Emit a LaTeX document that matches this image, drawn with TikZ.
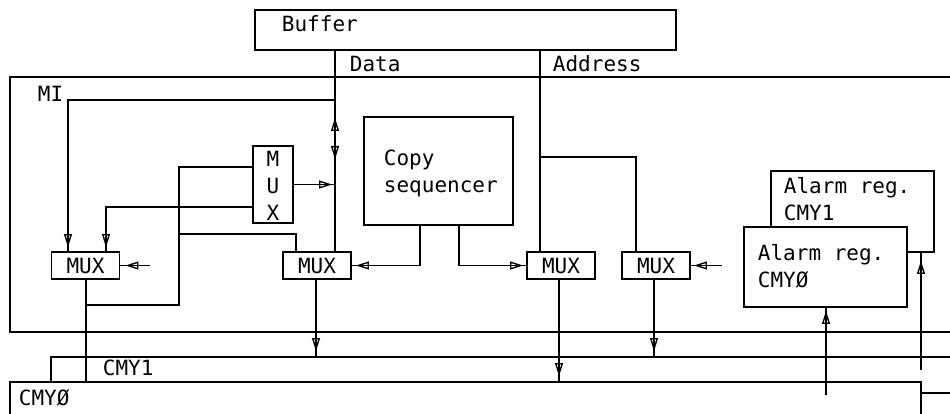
\documentclass[tikz,border=0pt]{standalone}
\usepackage{fontspec}
\newfontfamily\plotfont{DejaVu Sans Mono}
\usetikzlibrary{arrows.meta, decorations.markings}

\begin{document}
\begin{tikzpicture}[x=1pt, y=-1pt, line width=1.9pt,
    box/.style = {draw, rectangle, inner sep=0pt, fill=white, font=\plotfont\fontsize{21}{27}\selectfont},
    txt/.style = {inner sep=0pt, anchor=base west, align=left, font=\plotfont\fontsize{21}{27}\selectfont},
    fwd/.style = {postaction={decorate, decoration={markings, mark=at position #1 with {\arrow{Triangle[open, length=13pt, width=8pt, line width=1.4pt]}}}}},
    bwd/.style = {postaction={decorate, decoration={markings, mark=at position #1 with {\arrowreversed{Triangle[open, length=13pt, width=8pt, line width=1.4pt]}}}}}]
        \clip (0,0) rectangle (950,414);

        % Drawing the buffer and where the buses leave it
        \node[box, minimum width=421pt, minimum height=40pt] (buffer) at (465.5,30) {};
        \node[txt] (bufferlbl) at (281,32) {Buffer};
        \coordinate (data) at (335,50);
        \coordinate (addr) at (540,50);
        \node[txt] (datalbl) at (349,72) {Data};
        \node[txt] (addrlbl) at (552,72) {Address};

        % Drawing the MI frame
        \node[box, minimum width=960pt, minimum height=255pt] (mi) at (490,204.5) {};
        \node[txt] (milbl) at (37,102) {MI};

        % Drawing the multiplexers
        \foreach \name/\xPos in {mux1/85.5, mux2/317, mux3/561, mux4/656}{
            \node[box, minimum width=68pt, minimum height=27pt] (\name) at (\xPos,265.5) {MUX};
          }
        \node[box, minimum width=40pt, minimum height=77pt] (muxv) at (273,184.5) {};
        % (base of a text on several lines is its last line)
        \node[txt, anchor=base, align=center] (muxvlbl) at (273,220) {M\\U\\X};

        % Copy sequencer
        \node[box, minimum width=149pt, minimum height=108pt] (copyseq) at (438.5,171) {};
        \node[txt] (copylbl) at (383,193) {Copy\\sequencer};

        % Alarm registers
        \node[box, minimum width=163pt, minimum height=81pt] (alarm1) at (852.5,211.5) {};
        \node[txt] (alarm1lbl) at (783,220) {Alarm reg.\\CMY1};
        \node[box, minimum width=163pt, minimum height=80pt] (alarm0) at (825.5,267) {};
        \node[txt] (alarm0lbl) at (757,287) {Alarm reg.\\CMYØ};

        % Memory buses
        \node[box, minimum width=919pt, minimum height=36pt] (cmy1) at (510.5,375) {};
        \node[txt] (cmy1lbl) at (102,375) {CMY1};
        \node[box, minimum width=911pt, minimum height=58pt] (cmy0) at (465.5,411) {};
        \node[txt] (cmy0lbl) at (18,405) {CMYØ};

        % Connections
        % Data bus, both ways
        \draw[bwd=68pt, fwd=109pt] (data) -- (data |- mux2.north);
        \draw[fwd=-4pt] (data |- 0,100) -| (68,0 |- mux1.north);
        \draw[fwd=-3pt] (muxv.east) -- (data |- muxv.east);

        % Small mux inputs
        \draw (muxv.west |- 0,167) -- (179,167) -- (179,305) -- (86,305);
        \draw[fwd=-4pt] (muxv.west |- 0,207) -| (106,0 |- mux1.north);
        \draw (179,234) -| (296,0 |- mux2.north);

        % Outside inputs
        \draw[fwd=-5pt] (150,0 |- mux1.east) -- (mux1.east);
        \draw[fwd=-3pt] (722,0 |- mux4.east) -- (mux4.east);

        % Copy sequencer to mux 2 and 3
        \draw[fwd=-4pt] (420,0 |- copyseq.south) |- (mux2.east);
        \draw[fwd=-3pt] (459,0 |- copyseq.south) |- (mux3.west);

        % Address bus
        \draw (addr) -- (addr |- mux3.north);
        \draw (addr |- 0,157) -| (636,0 |- mux4.north);

        % Mux outputs to the memory buses
        \draw (86,0 |- mux1.south) -- (86,0 |- cmy0.north);
        \foreach \mux/\xPos/\bus in {mux2/316/cmy1, mux3/559/cmy0, mux4/654/cmy1}{
            \draw[fwd=-5pt] (\xPos,0 |- \mux.south) -- (\xPos,0 |- \bus.north);
          }

        % Alarm register inputs
        \draw[fwd=-3pt] (826,395) -- (826,0 |- alarm0.south);
        \draw[fwd=-8pt] (921,370) -- (921,0 |- alarm1.south);
      \end{tikzpicture}
\end{document}
